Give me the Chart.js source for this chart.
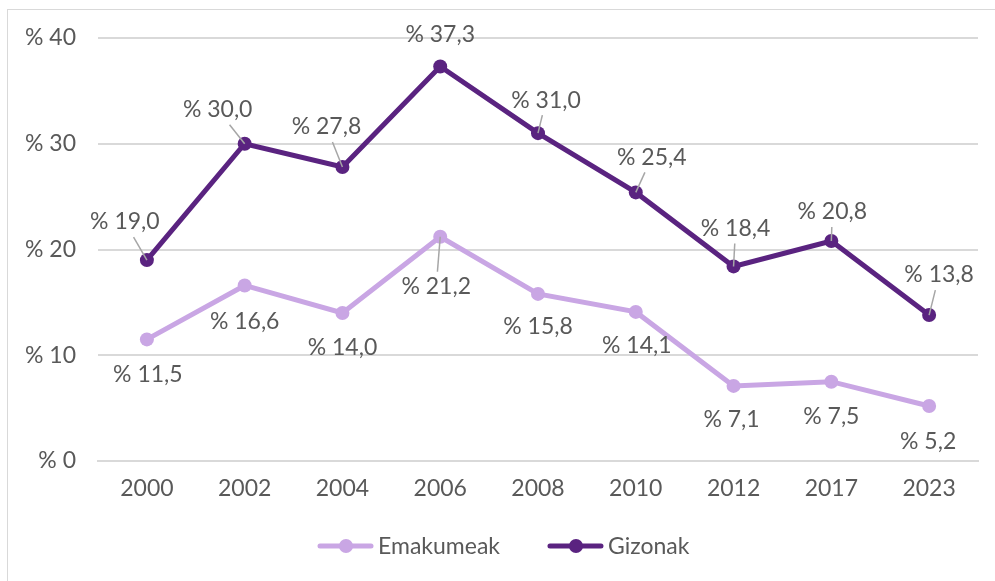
<!DOCTYPE html>
<html>
<head>
<meta charset="utf-8">
<script src="https://cdn.jsdelivr.net/npm/chart.js@4/dist/chart.umd.min.js"></script>
<style>
  html, body { margin: 0; padding: 0; background: #fff; overflow: hidden; }
  #frame { position: absolute; left: 7px; top: 9px; width: 1100px; height: 700px; border: 1px solid #d9d9d9; }
  #wrap { position: absolute; left: 0; top: 0; width: 995px; height: 581px; }
</style>
</head>
<body>
<div id="frame"></div>
<div id="wrap"><canvas id="chart"></canvas></div>
<script>
const years = ["2000", "2002", "2004", "2006", "2008", "2010", "2012", "2017", "2023"];
const emakumeak = [11.5, 16.6, 14.0, 21.2, 15.8, 14.1, 7.1, 7.5, 5.2];
const gizonak = [19.0, 30.0, 27.8, 37.3, 31.0, 25.4, 18.4, 20.8, 13.8];
const yTicks = [0, 10, 20, 30, 40];

// where each value label sits relative to its point: [dx, dy, leader line]
const emakumeakLabelPos = [[1, 35, false], [0, 36, false], [0, 35, false], [-4, 50, true], [0, 33, false],
    [1, 34, false], [-2, 34, false], [0, 35, false], [-1, 36, false]];
const gizonakLabelPos = [[-22, -38, true], [-27, -34, true], [-16, -40, true], [0, -32, false], [8, -33, true],
    [16, -35, true], [2, -38, true], [1, -29, true], [10, -40, true]];

const lightColor = "#c9a6e4";
const darkColor = "#5a2380";
const textColor = "#595959";
const gridColor = "#d9d9d9";
const fontFamily = "Lato, 'Noto Sans', sans-serif";
const fontSize = 23;

function fmt(v) {
    return "% " + v.toFixed(1).replace(".", ",");
}

const valueLabels = {
    id: "valueLabels",
    afterDatasetsDraw(chart) {
        const ctx = chart.ctx;
        ctx.save();
        ctx.font = fontSize + "px " + fontFamily;
        ctx.textAlign = "center";
        ctx.textBaseline = "middle";
        chart.data.datasets.forEach((ds, di) => {
            const pos = ds.labelPos;
            chart.getDatasetMeta(di).data.forEach((pt, i) => {
                const [dx, dy, leader] = pos[i];
                const cx = pt.x + dx, cy = pt.y + dy;
                const text = fmt(ds.data[i]);
                if (leader) {
                    const hw = ctx.measureText(text).width / 2 + 3;
                    const hh = 15;
                    const vx = cx - pt.x, vy = cy - pt.y;
                    let t = 1;
                    if (Math.abs(vx) > 0) t = Math.min(t, (Math.abs(vx) - hw) / Math.abs(vx));
                    if (Math.abs(vy) > 0) t = Math.min(t, (Math.abs(vy) - hh) / Math.abs(vy));
                    if (Math.abs(vx) <= hw) t = (Math.abs(vy) - hh) / Math.abs(vy);
                    if (t > 0) {
                        ctx.strokeStyle = "#a6a6a6";
                        ctx.lineWidth = 1.5;
                        ctx.beginPath();
                        ctx.moveTo(pt.x, pt.y);
                        ctx.lineTo(pt.x + vx * t, pt.y + vy * t);
                        ctx.stroke();
                    }
                }
                ctx.fillStyle = textColor;
                ctx.fillText(text, cx, cy);
            });
        });
        ctx.restore();
    }
};

const lineLegend = {
    id: "lineLegend",
    afterDraw(chart) {
        const ctx = chart.ctx;
        ctx.save();
        ctx.font = fontSize + "px " + fontFamily;
        ctx.textBaseline = "middle";
        ctx.textAlign = "left";
        let x = 318;
        const y = 546;
        chart.data.datasets.forEach(ds => {
            ctx.strokeStyle = ds.borderColor;
            ctx.lineWidth = 5;
            ctx.lineCap = "round";
            ctx.beginPath();
            ctx.moveTo(x + 2, y);
            ctx.lineTo(x + 53, y);
            ctx.stroke();
            ctx.fillStyle = ds.borderColor;
            ctx.beginPath();
            ctx.arc(x + 28, y, 7, 0, Math.PI * 2);
            ctx.fill();
            ctx.fillStyle = textColor;
            ctx.fillText(ds.label, x + 60, y + 1);
            x += 60 + ctx.measureText(ds.label).width + 48;
        });
        ctx.restore();
    }
};

new Chart(document.getElementById("chart"), {
    type: "line",
    data: {
        labels: years,
        datasets: [
            {
                label: "Emakumeak",
                data: emakumeak,
                labelPos: emakumeakLabelPos,
                borderColor: lightColor,
                backgroundColor: lightColor,
                borderWidth: 5,
                pointRadius: 7,
                pointHoverRadius: 7,
                pointBorderWidth: 0,
                tension: 0,
            },
            {
                label: "Gizonak",
                data: gizonak,
                labelPos: gizonakLabelPos,
                borderColor: darkColor,
                backgroundColor: darkColor,
                borderWidth: 5,
                pointRadius: 7,
                pointHoverRadius: 7,
                pointBorderWidth: 0,
                tension: 0,
            },
        ],
    },
    options: {
        responsive: true,
        maintainAspectRatio: false,
        animation: false,
        layout: { padding: { left: 8, right: 17, top: 38, bottom: 70 } },
        scales: {
            x: {
                offset: true,
                grid: { display: false, drawTicks: false },
                border: { color: gridColor, width: 2 },
                ticks: { color: textColor, font: { family: fontFamily, size: fontSize }, padding: 14 },
                afterFit: (s) => { s.height = 50; },
            },
            y: {
                min: 0,
                max: 40,
                afterBuildTicks: (s) => { s.ticks = yTicks.map(v => ({ value: v })); },
                grid: { color: gridColor, lineWidth: 2, drawTicks: false },
                border: { display: false },
                ticks: {
                    color: textColor,
                    font: { family: fontFamily, size: fontSize },
                    padding: 22,
                    callback: (v) => "% " + v,
                },
                afterFit: (s) => { s.width = 90; },
            },
        },
        plugins: {
            legend: { display: false },
            tooltip: { enabled: false },
        },
    },
    plugins: [valueLabels, lineLegend],
});
</script>
</body>
</html>
